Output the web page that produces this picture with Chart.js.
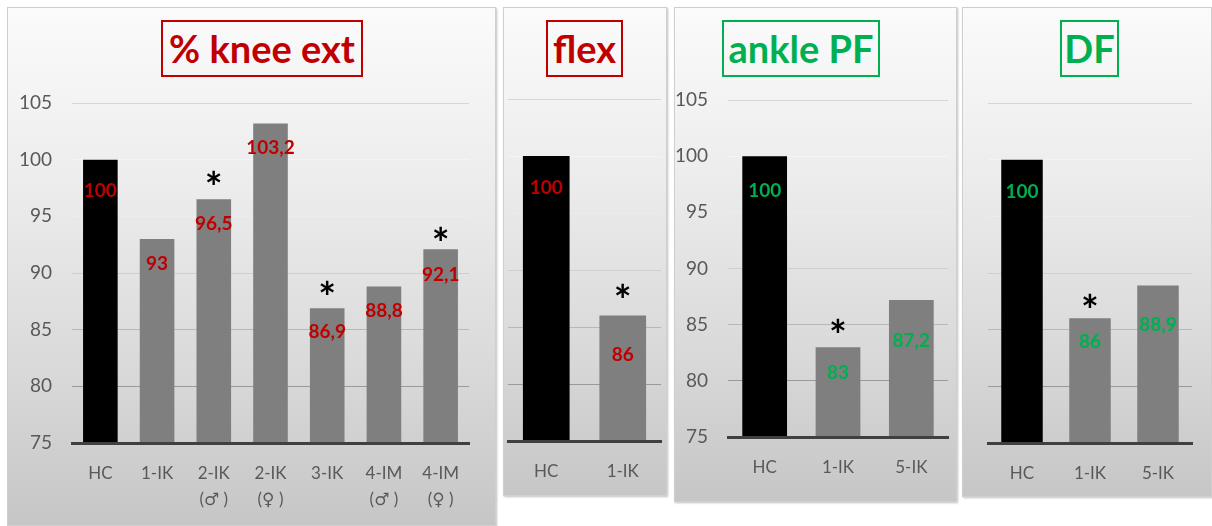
<!DOCTYPE html>
<html>
<head>
<meta charset="utf-8">
<script src="https://cdn.jsdelivr.net/npm/chart.js@4"></script>
<style>
  body { margin: 0; background: #fff; width: 1212px; height: 526px; overflow: hidden; position: relative; font-family: Lato, sans-serif; }
  .panel {
    position: absolute;
    background: linear-gradient(180deg, #fbfbfb 0%, #ececec 35%, #d9d9d9 70%, #c6c6c6 100%);
    box-shadow: inset 0 0 0 1px #cfcfcf, 1px 1px 2px rgba(0,0,0,0.25);
  }
  .panel canvas { position: absolute; left: 0; top: 0; }
  .title {
    position: absolute; top: 13px; height: 57px;
    display: flex; align-items: center; justify-content: center;
    font: bold 38px Lato, sans-serif; white-space: nowrap;
    border: 2px solid; box-sizing: border-box; padding-bottom: 2px;
  }
</style>
</head>
<body>

<div class="panel" id="p1" style="left:7px;top:7px;width:489px;height:519px">
  <div class="title" style="left:154px;width:202px;color:#C00000;border-color:#C00000">% knee ext</div>
  <canvas id="c1" width="489" height="519"></canvas>
</div>
<div class="panel" id="p2" style="left:503px;top:7px;width:164px;height:489px">
  <div class="title" style="left:43px;width:77px;color:#C00000;border-color:#C00000">flex</div>
  <canvas id="c2" width="164" height="489"></canvas>
</div>
<div class="panel" id="p3" style="left:674px;top:7px;width:283px;height:495px">
  <div class="title" style="left:48px;width:158px;color:#00B050;border-color:#00B050">ankle PF</div>
  <canvas id="c3" width="283" height="495"></canvas>
</div>
<div class="panel" id="p4" style="left:962px;top:7px;width:250px;height:490px">
  <div class="title" style="left:98px;width:59px;color:#00B050;border-color:#00B050">DF</div>
  <canvas id="c4" width="250" height="490"></canvas>
</div>

<script>
// data
const kneeExtLabels = ['HC', '1-IK', ['2-IK', '(\u2642 )'], ['2-IK', '(\u2640 )'], '3-IK', ['4-IM', '(\u2642 )'], ['4-IM', '(\u2640 )']];
const kneeExtValues = [100, 93, 96.5, 103.2, 86.9, 88.8, 92.1];
const kneeExtStars = [false, false, true, false, true, false, true];

const kneeFlexLabels = ['HC', '1-IK'];
const kneeFlexValues = [100, 86];
const kneeFlexStars = [false, true];

const anklePFLabels = ['HC', '1-IK', '5-IK'];
const anklePFValues = [100, 83, 87.2];
const anklePFStars = [false, true, false];

const ankleDFLabels = ['HC', '1-IK', '5-IK'];
const ankleDFValues = [100, 86, 88.9];
const ankleDFStars = [false, true, false];

const yMin = 75;
const yMax = 105;
const yStep = 5;

const RED = '#C00000';
const GREEN = '#00B050';

const gridColors = { 105: '#d6d6d6', 100: '#f4f4f4', 95: '#ececec', 90: '#cfcfcf', 85: '#b8b8b8', 80: '#9a9a9a', 75: 'rgba(0,0,0,0)' };

const fmt = (v) => String(v).replace('.', ',');

// value labels inside the bar + significance stars above it
const marksPlugin = {
    id: 'marks',
    afterDatasetsDraw(chart, args, opts) {
        const ctx = chart.ctx;
        const values = chart.data.datasets[0].data;
        chart.getDatasetMeta(0).data.forEach((bar, i) => {
            ctx.save();
            ctx.textAlign = 'center';
            ctx.textBaseline = 'middle';
            ctx.fillStyle = opts.color;
            ctx.font = 'bold 19px Lato, sans-serif';
            ctx.fillText(fmt(values[i]), bar.x, bar.y + opts.drop[i]);
            if (opts.stars[i]) {
                ctx.fillStyle = '#000';
                ctx.font = 'bold 42px Lato, sans-serif';
                ctx.textBaseline = 'alphabetic';
                ctx.fillText('*', bar.x, bar.y - opts.lift[i] + 24);
            }
            ctx.restore();
        });
    }
};

function makeChart(id, labels, values, stars, cfg) {
    const ctx = document.getElementById(id).getContext('2d');
    return new Chart(ctx, {
        type: 'bar',
        data: {
            labels: labels,
            datasets: [{
                data: values,
                backgroundColor: values.map((v, i) => i === 0 ? '#000000' : '#7F7F7F'),
                barPercentage: 0.61,
                categoryPercentage: 1,
            }],
        },
        options: {
            responsive: false,
            animation: false,
            layout: { padding: { top: cfg.top, right: cfg.right, left: 0, bottom: 0 } },
            plugins: {
                legend: { display: false },
                tooltip: { enabled: false },
                marks: { color: cfg.color, stars: stars, drop: cfg.drop, lift: cfg.lift },
            },
            scales: {
                x: {
                    grid: { display: false, drawTicks: false },
                    border: { display: true, color: '#404040', width: 3, z: 1 },
                    ticks: { color: '#595959', padding: 18, font: { family: 'Lato, "DejaVu Sans"', size: 17, lineHeight: 1.5 }, maxRotation: 0, autoSkip: false },
                    afterFit: (scale) => { scale.height = cfg.xHeight; },
                },
                y: {
                    min: yMin,
                    max: yMax,
                    grid: {
                        drawTicks: false,
                        color: (c) => gridColors[c.tick.value] || '#cccccc',
                        lineWidth: 1,
                    },
                    border: { display: false },
                    ticks: {
                        display: cfg.showTicks,
                        stepSize: yStep,
                        padding: 20,
                        color: '#595959',
                        font: { family: 'Lato', size: 19 },
                    },
                    afterFit: (scale) => { scale.width = cfg.yWidth; },
                },
            },
        },
        plugins: [marksPlugin],
    });
}

makeChart('c1', kneeExtLabels, kneeExtValues, kneeExtStars, {
    top: 96, right: 27, yWidth: 65, xHeight: 83, showTicks: true, color: RED,
    drop: [31, 25, 25, 24, 24, 24, 26], lift: [0, 0, 20, 0, 19, 0, 14],
});
makeChart('c2', kneeFlexLabels, kneeFlexValues, kneeFlexStars, {
    top: 92, right: 6, yWidth: 5, xHeight: 55, showTicks: false, color: RED,
    drop: [32, 39], lift: [0, 24],
});
makeChart('c3', anklePFLabels, anklePFValues, anklePFStars, {
    top: 93, right: 9, yWidth: 54, xHeight: 65, showTicks: true, color: GREEN,
    drop: [35, 26, 41], lift: [0, 20, 0],
});
makeChart('c4', ankleDFLabels, ankleDFValues, ankleDFStars, {
    top: 96, right: 20, yWidth: 26, xHeight: 54, showTicks: false, color: GREEN,
    drop: [32, 24, 39], lift: [0, 16, 0],
});
</script>
</body>
</html>
